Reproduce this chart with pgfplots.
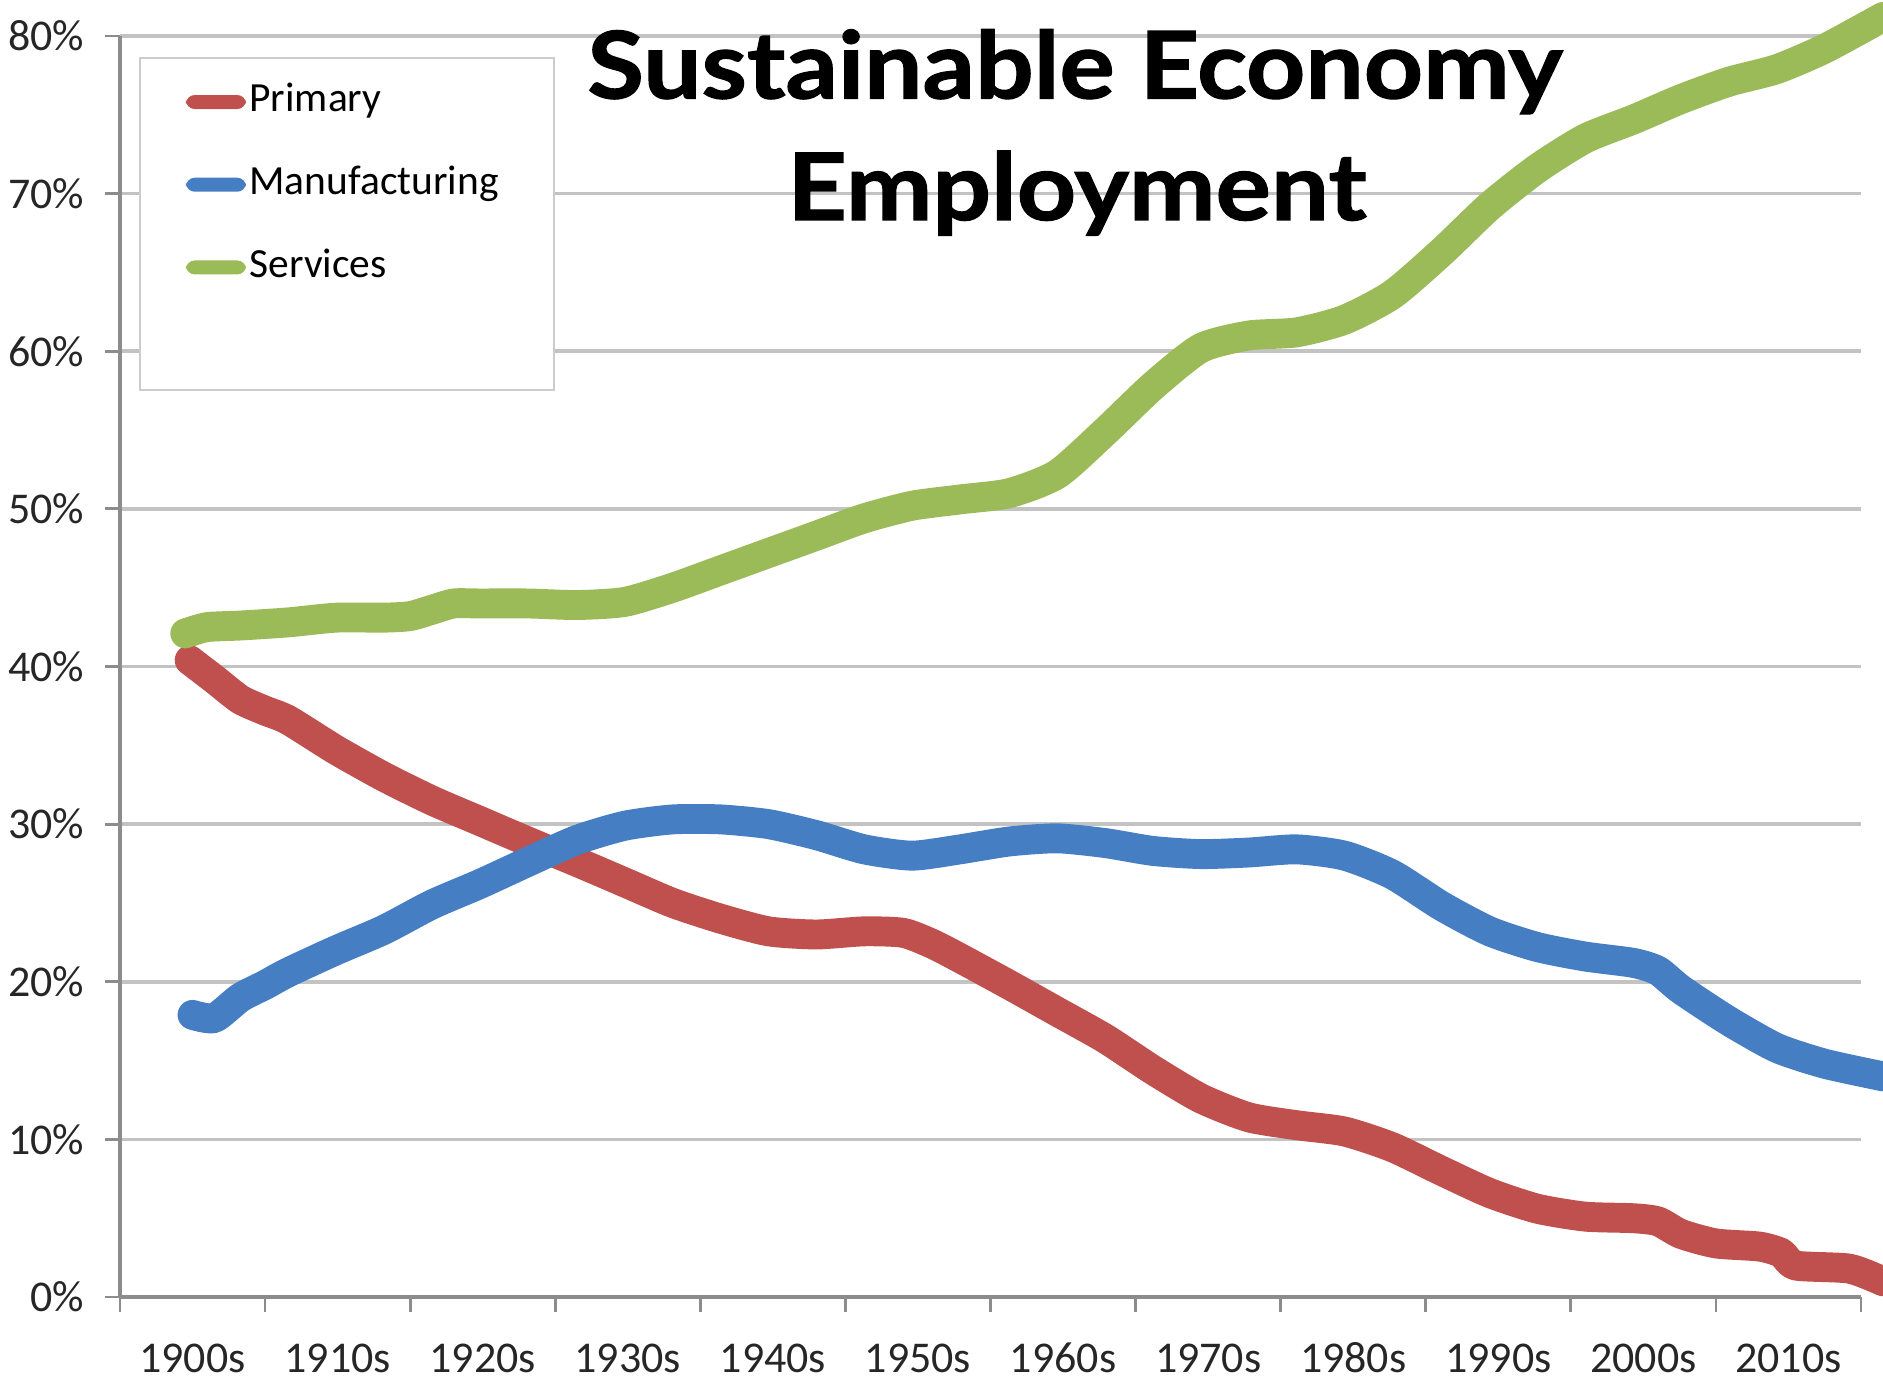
\documentclass[border=0pt]{standalone}
\usepackage{fontspec}
\setmainfont{Carlito}
\newfontfamily\titlefont{Lato}[BoldFeatures={FakeStretch=1.11,FakeBold=1.3}]
\usepackage{pgfplots}
\pgfplotsset{compat=1.18}
\definecolor{cprim}{RGB}{192,80,77}
\definecolor{cman}{RGB}{70,126,196}
\definecolor{cser}{RGB}{155,187,89}
\definecolor{cgrid}{RGB}{195,195,195}
\definecolor{caxis}{RGB}{140,140,140}
\begin{document}
\begin{tikzpicture}
\useasboundingbox (-1.20cm,-0.93cm) rectangle (17.63cm,12.97cm);
\begin{axis}[
  at={(0,0)}, anchor=south west,
  scale only axis, width=17.41cm, height=12.61cm,
  xmin=0, xmax=12, ymin=0, ymax=80,
  clip=false,
  axis x line*=bottom, axis y line*=left,
  axis line style={caxis, line width=0.9pt},
  ytick={0,10,...,80},
  yticklabels={0\%,10\%,20\%,30\%,40\%,50\%,60\%,70\%,80\%},
  ymajorgrids, grid style={cgrid, line width=1pt},
  xtick={0,1,...,12}, xticklabels={},
  extra x ticks={0.5,1.5,...,11.5},
  extra x tick labels={1900s,1910s,1920s,1930s,1940s,1950s,1960s,1970s,1980s,1990s,2000s,2010s},
  extra x tick style={major tick length=0pt, grid=none},
  tick align=outside,
  major tick length=0.15cm,
  tick style={caxis, line width=0.8pt},
  ticklabel style={font=\fontsize{12.5}{14}\selectfont, text=black!85},
  yticklabel style={anchor=east, inner sep=0pt, xshift=-0.20cm},
  xticklabel style={anchor=base, inner sep=0pt, yshift=-0.75cm},
  legend style={at={(0.0379,0.9627)}, anchor=north west, draw=none, fill=none,
    inner sep=0pt, outer sep=0pt, row sep=0.47cm, column sep=0pt,
    font=\fontsize{11.8}{13}\selectfont,
    nodes={inner sep=0pt, text height=0.75em, text depth=0.2em}},
  legend cell align=left,
  legend image code/.code={\path[draw=none, fill=none] (0cm,0.05cm) rectangle (0.635cm,0.19cm); \path[overlay, fill, draw=none, rounded corners=2.5pt] (0cm,-0.07cm) rectangle (0.6cm,0.07cm);},
]
\draw[draw=black!20, fill=white, line width=0.8pt] (rel axis cs:0.0115,0.9826) rectangle (rel axis cs:0.2493,0.7193);

\addplot[cprim, line width=8.5pt, line cap=round, line join=round, smooth, tension=0.4] coordinates {
(0.48,40.4)(0.65,39.2)(0.83,37.9)(1.0,37.2)(1.16,36.6)(1.49,34.7)(1.82,33.0)(2.15,31.5)(2.48,30.2)(2.81,28.9)(3.15,27.6)(3.48,26.3)(3.81,25.0)(4.14,24.0)(4.47,23.2)(4.80,23.0)(5.13,23.2)(5.40,23.1)(5.60,22.4)(5.79,21.5)(6.13,19.8)(6.46,18.1)(6.79,16.4)(7.12,14.4)(7.45,12.6)(7.78,11.4)(8.11,10.9)(8.44,10.5)(8.77,9.5)(9.11,8.0)(9.44,6.6)(9.77,5.6)(10.1,5.1)(10.43,5.0)(10.6,4.8)(10.76,4.0)(11.0,3.4)(11.3,3.2)(11.45,2.8)(11.55,2.0)(11.92,1.8)(12.15,1.0)
};
\addlegendentry{Primary}
\addplot[cman, line width=8.5pt, line cap=round, line join=round, smooth, tension=0.4] coordinates {
(0.50,17.9)(0.65,17.7)(0.83,19.0)(1.0,19.8)(1.16,20.6)(1.49,22.0)(1.82,23.3)(2.15,24.9)(2.48,26.2)(2.81,27.6)(3.15,29.0)(3.48,29.9)(3.81,30.3)(4.14,30.3)(4.47,30.0)(4.80,29.3)(5.13,28.4)(5.46,28.0)(5.79,28.4)(6.13,28.9)(6.46,29.1)(6.79,28.8)(7.12,28.3)(7.45,28.1)(7.78,28.2)(8.11,28.4)(8.44,28.0)(8.77,26.8)(9.11,24.8)(9.44,23.2)(9.77,22.2)(10.1,21.6)(10.43,21.2)(10.6,20.7)(10.76,19.5)(11.09,17.5)(11.42,15.8)(11.75,14.8)(12.15,14.0)
};
\addlegendentry{Manufacturing}
\addplot[cser, line width=8.5pt, line cap=round, line join=round, smooth, tension=0.4] coordinates {
(0.45,42.1)(0.6,42.5)(0.83,42.6)(1.16,42.8)(1.49,43.1)(1.82,43.1)(2.0,43.2)(2.15,43.6)(2.3,44.0)(2.48,44.0)(2.81,44.0)(3.15,43.9)(3.48,44.1)(3.81,45.0)(4.14,46.1)(4.47,47.2)(4.80,48.3)(5.13,49.4)(5.46,50.2)(5.79,50.6)(6.13,51.0)(6.46,52.2)(6.79,54.9)(7.12,57.8)(7.45,60.2)(7.78,61.0)(8.11,61.2)(8.44,62.0)(8.77,63.6)(9.11,66.3)(9.44,69.2)(9.77,71.6)(10.1,73.5)(10.43,74.7)(10.76,76.0)(11.09,77.1)(11.42,77.9)(11.75,79.2)(12.15,81.2)
};
\addlegendentry{Services}

\node[font=\titlefont\bfseries\fontsize{26.5}{30}\selectfont, anchor=base, inner sep=0pt] at (rel axis cs:0.5485,0.9505) {Sustainable Economy};
\node[font=\titlefont\bfseries\fontsize{26.5}{30}\selectfont, anchor=base, inner sep=0pt] at (rel axis cs:0.5497,0.8541) {Employment};
\end{axis}
\end{tikzpicture}
\end{document}
